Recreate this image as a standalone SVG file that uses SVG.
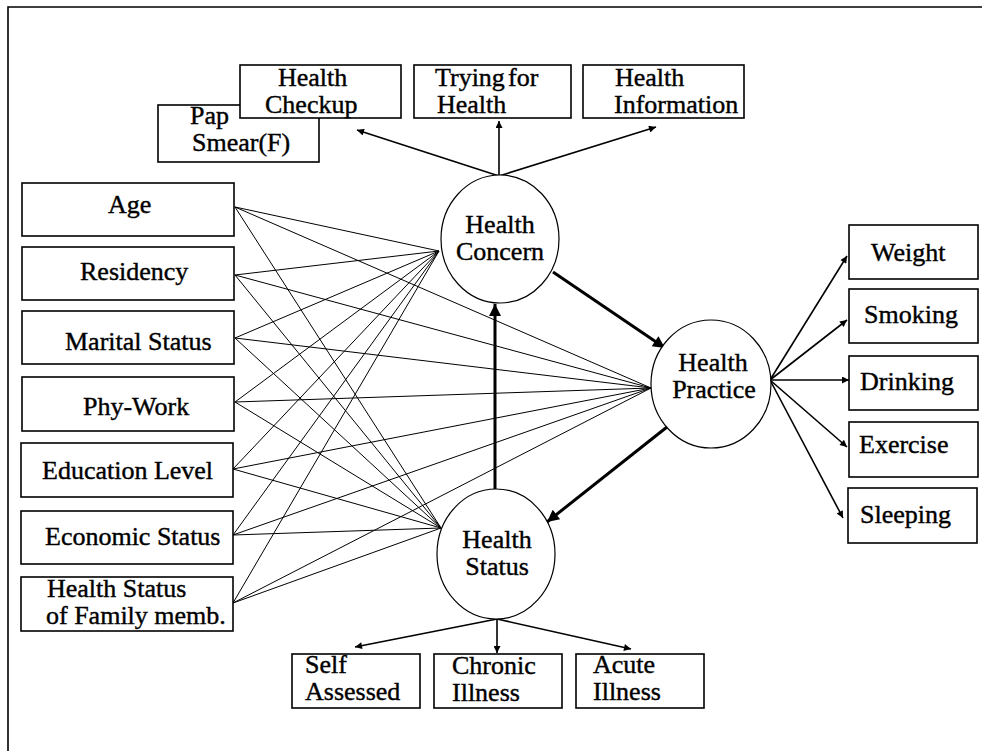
<svg xmlns="http://www.w3.org/2000/svg" width="982" height="751" viewBox="0 0 982 751">
<style>
  .box { fill: #fff; stroke: #000; stroke-width: 1.6; }
  .circ { fill: #fff; stroke: #000; stroke-width: 1.2; }
  .t { font-family: 'Liberation Serif', 'DejaVu Serif', 'Times New Roman', Times, serif; font-size: 26px; fill: #000; stroke: #000; stroke-width: 0.4; }
  .m { text-anchor: middle; }
  .thin { stroke: #000; stroke-width: 1; fill: none; }
  .arr { stroke: #000; stroke-width: 1.6; fill: none; marker-end: url(#ah); }
  .thick { stroke: #000; stroke-width: 3; fill: none; marker-end: url(#ahb); }
  .frame { stroke: #000; stroke-width: 1.6; fill: none; }
</style>
<defs>
  <marker id="ah" viewBox="0 0 10 10" refX="10" refY="5" markerWidth="9" markerHeight="7" markerUnits="userSpaceOnUse" orient="auto">
    <path d="M0,0 L10,5 L0,10 z" fill="#000"/>
  </marker>
  <marker id="ahb" viewBox="0 0 10 10" refX="10" refY="5" markerWidth="16" markerHeight="12" markerUnits="userSpaceOnUse" orient="auto">
    <path d="M0,0 L10,5 L0,10 z" fill="#000"/>
  </marker>
</defs>
<rect width="982" height="751" fill="#fff"/>
<path class="frame" d="M8,751 L8,7 L982,7"/>

<g id="connectors">
  <path class="thin" d="M235,207 L439,251 M235,207 L651,388 M235,207 L441,528"/>
  <path class="thin" d="M235,275 L439,251 M235,275 L651,388 M235,275 L441,528"/>
  <path class="thin" d="M235,338 L439,251 M235,338 L651,388 M235,338 L441,528"/>
  <path class="thin" d="M235,402 L439,251 M235,402 L651,388 M235,402 L441,528"/>
  <path class="thin" d="M233,469 L439,251 M233,469 L651,388 M233,469 L441,528"/>
  <path class="thin" d="M233,535 L439,251 M233,535 L651,388 M233,535 L441,528"/>
  <path class="thin" d="M233,603 L439,251 M233,603 L651,388 M233,603 L441,528"/>
  <path class="arr" d="M499,176 L357,130"/>
  <path class="arr" d="M499,176 L499,121"/>
  <path class="arr" d="M499,176 L656,127"/>
  <path class="thick" d="M553,272 L665,348"/>
  <path class="thick" d="M495,489 L495,304"/>
  <path class="thick" d="M667,427 L547,522"/>
  <path class="arr" d="M770,380 L847,256"/>
  <path class="arr" d="M770,380 L847,320"/>
  <path class="arr" d="M770,380 L849,380"/>
  <path class="arr" d="M770,380 L847,447"/>
  <path class="arr" d="M770,380 L843,518"/>
  <path class="arr" d="M497,619 L355,647"/>
  <path class="arr" d="M497,619 L497,653"/>
  <path class="arr" d="M497,619 L631,649"/>
</g>

<g id="pap-smear">
  <rect class="box" x="158" y="105" width="161" height="57"/>
  <text class="t" x="190" y="124">Pap</text>
  <text class="t" x="192" y="151">Smear(F)</text>
</g>
<g id="health-checkup">
  <rect class="box" x="240" y="65" width="161" height="53"/>
  <text class="t" x="278" y="86">Health</text>
  <text class="t" x="265" y="113">Checkup</text>
</g>
<g id="trying-for-health">
  <rect class="box" x="414" y="65" width="157" height="53"/>
  <text class="t" x="435" y="86">Trying<tspan x="508">for</tspan></text>
  <text class="t" x="437" y="113">Health</text>
</g>
<g id="health-information">
  <rect class="box" x="583" y="65" width="161" height="53"/>
  <text class="t" x="615" y="86">Health</text>
  <text class="t" x="614" y="113">Information</text>
</g>

<g id="age">
  <rect class="box" x="22" y="183" width="212" height="53"/>
  <text class="t" x="108" y="213">Age</text>
</g>
<g id="residency">
  <rect class="box" x="22" y="247" width="212" height="53"/>
  <text class="t" x="80" y="280">Residency</text>
</g>
<g id="marital-status">
  <rect class="box" x="22" y="311" width="212" height="53"/>
  <text class="t" x="65" y="350">Marital Status</text>
</g>
<g id="phy-work">
  <rect class="box" x="22" y="377" width="212" height="54"/>
  <text class="t" x="83" y="415">Phy-Work</text>
</g>
<g id="education-level">
  <rect class="box" x="21" y="443" width="212" height="54"/>
  <text class="t" x="42" y="479">Education Level</text>
</g>
<g id="economic-status">
  <rect class="box" x="21" y="511" width="212" height="53"/>
  <text class="t" x="45" y="545">Economic Status</text>
</g>
<g id="health-status-family">
  <rect class="box" x="21" y="577" width="212" height="54"/>
  <text class="t" x="47" y="597">Health Status</text>
  <text class="t" x="46" y="624">of Family memb.</text>
</g>

<g id="health-concern">
  <ellipse class="circ" cx="500" cy="239" rx="59" ry="64"/>
  <text class="t m" x="500" y="233">Health</text>
  <text class="t m" x="500" y="260">Concern</text>
</g>
<g id="health-practice">
  <ellipse class="circ" cx="711" cy="384" rx="60" ry="64"/>
  <text class="t m" x="713" y="371">Health</text>
  <text class="t m" x="714" y="398">Practice</text>
</g>
<g id="health-status">
  <ellipse class="circ" cx="496" cy="554" rx="59" ry="65"/>
  <text class="t m" x="497" y="548">Health</text>
  <text class="t m" x="497" y="575">Status</text>
</g>

<g id="weight">
  <rect class="box" x="849" y="225" width="129" height="54"/>
  <text class="t" x="871" y="261">Weight</text>
</g>
<g id="smoking">
  <rect class="box" x="849" y="289" width="129" height="54"/>
  <text class="t" x="864" y="323">Smoking</text>
</g>
<g id="drinking">
  <rect class="box" x="849" y="356" width="129" height="54"/>
  <text class="t" x="860" y="390">Drinking</text>
</g>
<g id="exercise">
  <rect class="box" x="849" y="422" width="129" height="55"/>
  <text class="t" x="859" y="453">Exercise</text>
</g>
<g id="sleeping">
  <rect class="box" x="848" y="488" width="129" height="55"/>
  <text class="t" x="860" y="523">Sleeping</text>
</g>

<g id="self-assessed">
  <rect class="box" x="292" y="654" width="128" height="54"/>
  <text class="t" x="305" y="673">Self</text>
  <text class="t" x="305" y="700">Assessed</text>
</g>
<g id="chronic-illness">
  <rect class="box" x="434" y="654" width="128" height="54"/>
  <text class="t" x="452" y="674">Chronic</text>
  <text class="t" x="452" y="701">Illness</text>
</g>
<g id="acute-illness">
  <rect class="box" x="576" y="654" width="128" height="54"/>
  <text class="t" x="593" y="673">Acute</text>
  <text class="t" x="593" y="700">Illness</text>
</g>
</svg>
